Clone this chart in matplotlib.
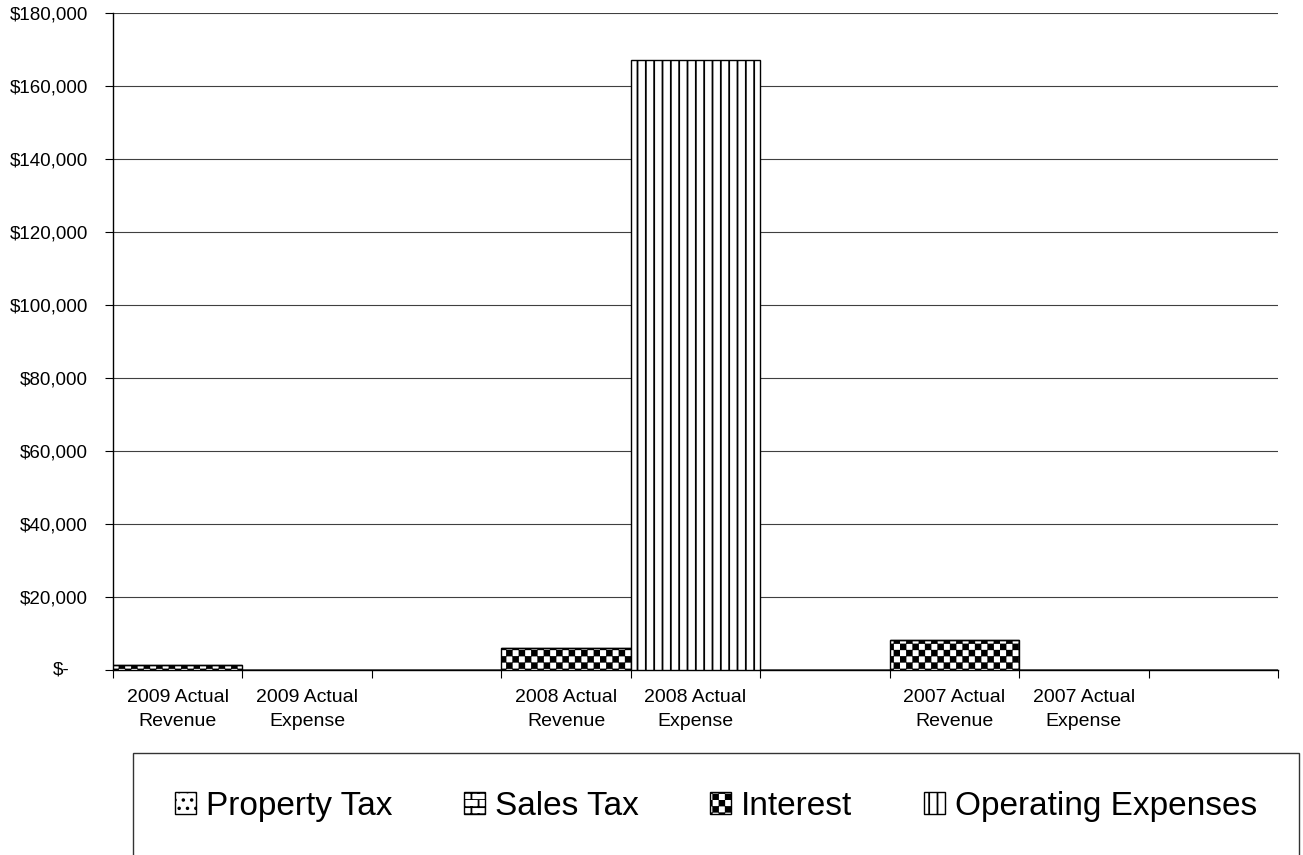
import numpy as np
import matplotlib
matplotlib.use("Agg")
import matplotlib.pyplot as plt
from matplotlib import hatch as mhatch
from matplotlib.path import Path
from matplotlib.patches import Rectangle
from matplotlib.ticker import FuncFormatter, FixedLocator, MultipleLocator

categories = ["2009 Actual\nRevenue", "2009 Actual\nExpense", "",
              "2008 Actual\nRevenue", "2008 Actual\nExpense", "",
              "2007 Actual\nRevenue", "2007 Actual\nExpense", ""]
property_tax = [0, 0, 0, 0, 0, 0, 0, 0, 0]
sales_tax = [0, 0, 0, 0, 0, 0, 0, 0, 0]
interest = [1300, 0, 0, 5950, 0, 0, 8250, 0, 0]
operating_expenses = [0, 0, 0, 0, 167200, 0, 0, 0, 0]
series_names = ["Property Tax", "Sales Tax", "Interest", "Operating Expenses"]


# Excel-like fill patterns: '*' becomes a checkerboard, 'o' a brick pattern
class CheckerHatch(mhatch.HatchPatternBase):
    def __init__(self, hatch, density):
        self.n = 16 * hatch.count('*')
        self.num_vertices = 5 * (self.n * self.n // 2)

    def set_vertices_and_codes(self, vertices, codes):
        s = 1.0 / self.n
        inset = 0.12 * s
        sq = np.array([[0, 0], [1, 0], [1, 1], [0, 1], [0, 0]]) * (s - 2 * inset) + inset
        k = 0
        for i in range(self.n):
            for j in range(self.n):
                if (i + j) % 2 == 0:
                    vertices[k:k + 5] = sq + [j * s, i * s]
                    codes[k:k + 5] = [Path.MOVETO, Path.LINETO, Path.LINETO,
                                      Path.LINETO, Path.CLOSEPOLY]
                    k += 5


class BrickHatch(mhatch.HatchPatternBase):
    def __init__(self, hatch, density):
        self.rows = 14 * hatch.count('o')
        self.cols = self.rows // 2
        self.num_vertices = 2 * self.rows + 2 * self.rows * self.cols

    def set_vertices_and_codes(self, vertices, codes):
        h = 1.0 / max(self.rows, 1)
        w = 1.0 / max(self.cols, 1)
        k = 0
        for i in range(self.rows):
            y = i * h
            vertices[k:k + 2] = [[0, y], [1, y]]
            codes[k:k + 2] = [Path.MOVETO, Path.LINETO]
            k += 2
            shift = 0.5 * w if i % 2 else 0.0
            for j in range(self.cols):
                xx = j * w + shift
                vertices[k:k + 2] = [[xx, y], [xx, y + h]]
                codes[k:k + 2] = [Path.MOVETO, Path.LINETO]
                k += 2


mhatch._hatch_types = [t for t in mhatch._hatch_types
                       if t not in (mhatch.Stars, mhatch.SmallCircles)] + [CheckerHatch, BrickHatch]

plt.rcParams['font.family'] = ['Liberation Sans', 'DejaVu Sans']
plt.rcParams['hatch.linewidth'] = 1.3
plt.rcParams['hatch.color'] = 'black'

fig = plt.figure(figsize=(13.03, 8.55), dpi=100)
ax = fig.add_axes([113 / 1303, 1 - 670 / 855, 1165 / 1303, 657 / 855])

x = np.arange(len(categories))
series = [property_tax, sales_tax, interest, operating_expenses]
hatches = ["..", "o", "*", "||"]
bottom = np.zeros(len(categories))
handles = []
for name, vals, h in zip(series_names, series, hatches):
    vals = np.asarray(vals, dtype=float)
    bars = ax.bar(x, vals, width=1.0, bottom=bottom, facecolor="white",
                  edgecolor="black", linewidth=1.0, hatch=h, label=name, zorder=3)
    handles.append(bars)
    bottom += vals

ax.set_xlim(-0.5, len(categories) - 0.5)
ax.set_ylim(0, 180000)
ax.yaxis.set_major_locator(MultipleLocator(20000))
ax.yaxis.set_major_formatter(FuncFormatter(lambda v, p: "" if v == 0 else f"${v:,.0f}"))
ax.text(-0.037, 0, "$-", transform=ax.get_yaxis_transform(), ha="right", va="center",
        fontsize=13.5)
ax.yaxis.grid(True, color="#404040", linewidth=0.8)
ax.set_axisbelow(True)

ax.set_xticks(x)
ax.set_xticklabels(categories, fontsize=14, linespacing=1.5)
ax.xaxis.set_minor_locator(FixedLocator(np.arange(-0.5, len(categories), 1.0)))
ax.tick_params(axis="x", which="major", length=0, pad=14)
ax.tick_params(axis="x", which="minor", length=6, width=0.8, color="black", direction="out")
ax.tick_params(axis="y", length=6, width=0.8, color="black", direction="out",
               labelsize=13.5, pad=12)

for side in ["top", "right"]:
    ax.spines[side].set_visible(False)
for side in ["left", "bottom"]:
    ax.spines[side].set_color("black")
    ax.spines[side].set_linewidth(1.0)

# legend box runs off the bottom of the figure like the source
frame = Rectangle((133 / 1303, -0.05), (1299 - 133) / 1303, 0.05 + 1 - 753 / 855,
                  transform=fig.transFigure, fill=False, edgecolor="#333333",
                  linewidth=1.0, clip_on=False)
fig.patches.append(frame)

fig.legend(handles, series_names, loc="center", bbox_to_anchor=(716 / 1303, 1 - 806 / 855),
           ncol=4, frameon=False, fontsize=24, handlelength=0.63, handleheight=0.63,
           handletextpad=0.3, columnspacing=2.15, borderaxespad=0, borderpad=0)

fig.savefig("out.png", dpi=100)
